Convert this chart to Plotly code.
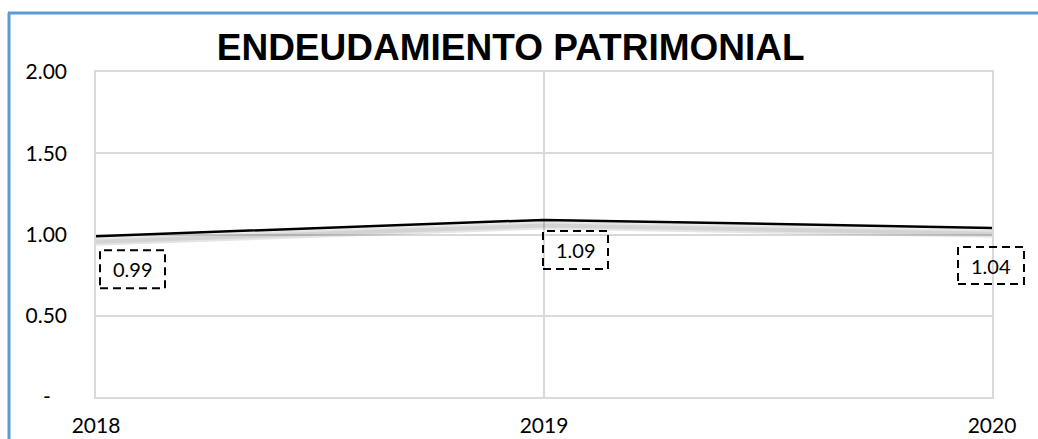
import plotly.graph_objects as go

# ---- data ----
years = [2018, 2019, 2020]
values = [0.99, 1.09, 1.04]
y_tickvals = [0, 0.5, 1.0, 1.5, 2.0]
y_ticktext = ["-\u00a0\u00a0\u00a0", "0.50", "1.00", "1.50", "2.00"]
title_text = "ENDEUDAMIENTO PATRIMONIAL"

# ---- label box placement (pixel offsets from each point) ----
box_offsets = [(4, 69, -52, -14), (-1, 64, -49, -11), (-34, 32, -56, -19)]

FONT = "Lato, Open Sans, sans-serif"
GRID = "#D9D9D9"
X_RANGE = [years[0], years[-1]]

fig = go.Figure()

# soft shadow under the line (same data on a slightly shifted overlay axis)
fig.add_trace(go.Scatter(
    x=years, y=values, mode="lines", yaxis="y2",
    line=dict(color="rgba(0,0,0,0.10)", width=8),
    hoverinfo="skip", showlegend=False))
fig.add_trace(go.Scatter(
    x=years, y=values, mode="lines", yaxis="y2",
    line=dict(color="rgba(0,0,0,0.08)", width=4),
    hoverinfo="skip", showlegend=False))

fig.add_trace(go.Scatter(
    x=years, y=values, mode="lines",
    line=dict(color="black", width=2.5),
    showlegend=False))

shapes = []
annotations = []
for yr, v, (x0, x1, y0, y1) in zip(years, values, box_offsets):
    xfrac = (yr - X_RANGE[0]) / (X_RANGE[1] - X_RANGE[0])
    shapes.append(dict(
        type="rect", xref="paper", yref="y",
        xsizemode="pixel", ysizemode="pixel",
        xanchor=xfrac, yanchor=v, x0=x0, x1=x1, y0=y0, y1=y1,
        line=dict(color="black", width=2, dash="8px,5px"),
        fillcolor="rgba(0,0,0,0)"))
    annotations.append(dict(
        x=yr, y=v, xref="x", yref="y", text=f"{v:.2f}", showarrow=False,
        xshift=(x0 + x1) / 2, yshift=(y0 + y1) / 2,
        font=dict(family=FONT, size=20, color="black")))

# blue outer border (left and top)
shapes.append(dict(type="line", xref="paper", yref="paper",
                   xsizemode="pixel", ysizemode="pixel",
                   xanchor=0, yanchor=1, x0=-87, x1=-87, y0=59, y1=-400,
                   line=dict(color="#5B9BD5", width=3)))
shapes.append(dict(type="line", xref="paper", yref="paper",
                   xsizemode="pixel", ysizemode="pixel",
                   xanchor=0, yanchor=1, x0=-88, x1=1000, y0=59, y1=59,
                   line=dict(color="#5B9BD5", width=3)))

fig.update_layout(
    width=1038, height=439,
    margin=dict(l=96, r=46, t=72, b=42),
    paper_bgcolor="white", plot_bgcolor="white",
    title=dict(text=f"<b>{title_text}</b>", x=0.492, xanchor="center",
               y=0.893, yanchor="middle",
               font=dict(family="Liberation Sans, Arial, sans-serif", size=37, color="black")),
    xaxis=dict(range=X_RANGE, tickvals=years, ticktext=[str(y) for y in years],
               showgrid=True, gridcolor=GRID, gridwidth=1.5,
               showline=True, linecolor=GRID, linewidth=1.5, mirror=True,
               zeroline=False, ticks="outside", ticklen=9, tickcolor="rgba(0,0,0,0)",
               automargin=False,
               tickfont=dict(family=FONT, size=21, color="black")),
    yaxis=dict(range=[0, 2], tickvals=y_tickvals, ticktext=y_ticktext,
               showgrid=True, gridcolor=GRID, gridwidth=1.5,
               showline=True, linecolor=GRID, linewidth=1.5, mirror=True,
               zeroline=False, ticks="outside", ticklen=23, tickcolor="rgba(0,0,0,0)",
               automargin=False,
               tickfont=dict(family=FONT, size=21, color="black")),
    yaxis2=dict(range=[0.035, 2.035], overlaying="y", visible=False),
    shapes=shapes,
    annotations=annotations,
)

fig.write_html("out.html", config={"displayModeBar": False},
               post_script="document.body.style.margin='0';")
